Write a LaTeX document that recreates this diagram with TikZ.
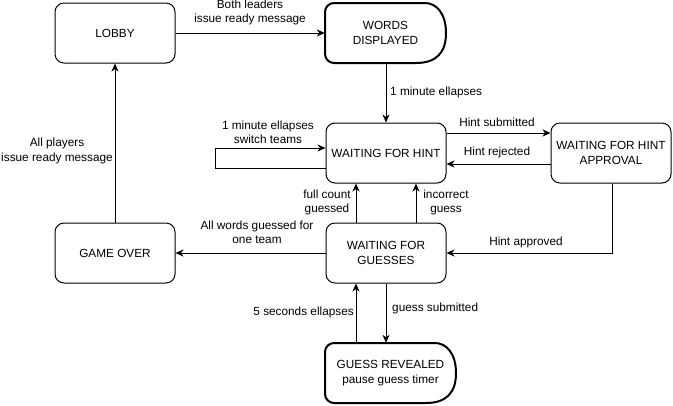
\documentclass[tikz,border=0pt]{standalone}
\usepackage{fontspec}
\setmainfont{Liberation Sans}
\usetikzlibrary{arrows.meta}
\begin{document}
\begin{tikzpicture}[x=1pt,y=-1pt,
  every node/.style={font=\fontsize{11.8}{14.5}\selectfont, align=center, inner sep=0pt},
  state/.style={draw, rounded corners=9pt, line width=1pt, minimum width=120pt, minimum height=60pt},
  delaybox/.style={minimum height=60pt},
  delayline/.style={line width=2pt, line join=round},
  lbl/.style={fill=white, inner sep=1pt},
  edge/.style={line width=1pt, -{Stealth[length=8pt,width=7pt,inset=2.5pt]}}]
\useasboundingbox (0,0) rectangle (673,405);
\fill[white] (0,0) rectangle (673,405);

% states
\node[state] (lobby) at (115,33) {LOBBY};
\node[delaybox, minimum width=121pt] (words) at (385.5,33) {WORDS\\DISPLAYED};
\draw[delayline, rounded corners=9pt] (416,63) -- (325,63) -- (325,3) -- (416,3)
  [sharp corners] .. controls (436,3) and (446,13) .. (446,33)
  .. controls (446,53) and (436,63) .. (416,63) -- cycle;
\node[state] (hint) at (386,153) {WAITING FOR HINT};
\node[state] (approval) at (611,153) {WAITING FOR HINT\\APPROVAL};
\node[state] (guesses) at (386,253) {WAITING FOR\\GUESSES};
\node[state] (gameover) at (115,253) {GAME OVER};
\node[delaybox, minimum width=131pt] (revealed) at (390.5,373) {GUESS REVEALED\\pause guess timer};
\draw[delayline, rounded corners=9pt] (426,403) -- (325,403) -- (325,343) -- (426,343)
  [sharp corners] .. controls (446,343) and (456,353) .. (456,373)
  .. controls (456,393) and (446,403) .. (426,403) -- cycle;

% connectors
\draw[edge] (lobby.east) -- (words.west);
\draw[edge] (hint.north |- words.south) -- (hint.north);
\draw[edge] ([yshift=-15pt]hint.west) -| ([xshift=-110pt,yshift=5pt]hint.west) -- ([yshift=5pt]hint.west);
\draw[edge] ([yshift=20pt]hint.east) -- ([yshift=20pt]approval.west);
\draw[edge] ([yshift=-11pt]approval.west) -- ([yshift=-11pt]hint.east);
\draw[edge] ([xshift=1pt]approval.south) |- (guesses.east);
\draw[edge] ([xshift=-30pt]guesses.north) -- ([xshift=-30pt]hint.south);
\draw[edge] ([xshift=30pt]guesses.north) -- ([xshift=30pt]hint.south);
\draw[edge] (guesses.west) -- (gameover.east);
\draw[edge] (gameover.north) -- (lobby.south);
\coordinate (gs1) at ([xshift=-30pt]guesses.south);
\draw[edge] (gs1 |- revealed.north) -- (gs1);
\draw[edge] (guesses.south) -- (guesses.south |- revealed.north);

% labels
\node[lbl] (l1) at (250,12.5) {Both leaders\\issue ready message};
\node[lbl, anchor=west] (l2) at (389,92) {1 minute ellapses};
\node[lbl] (l3) at (268,132.5) {1 minute ellapses\\switch teams};
\node[lbl] (l4) at (497,122) {Hint submitted};
\node[lbl] (l5) at (497,152) {Hint rejected};
\node[lbl] (l6) at (526,242) {Hint approved};
\node[lbl] (l9) at (257,232.5) {All words guessed for\\one team};
\node[lbl] (l7) at (327,202.5) {full count\\guessed};
\node[lbl] (l8) at (446,202.5) {incorrect\\guess};
\node[lbl] (l10) at (57,151) {All players\\issue ready message};
\node[lbl, anchor=east] (l11) at (355,312) {5 seconds ellapses};
\node[lbl, anchor=west] (l12) at (391,308) {guess submitted};
\end{tikzpicture}
\end{document}
